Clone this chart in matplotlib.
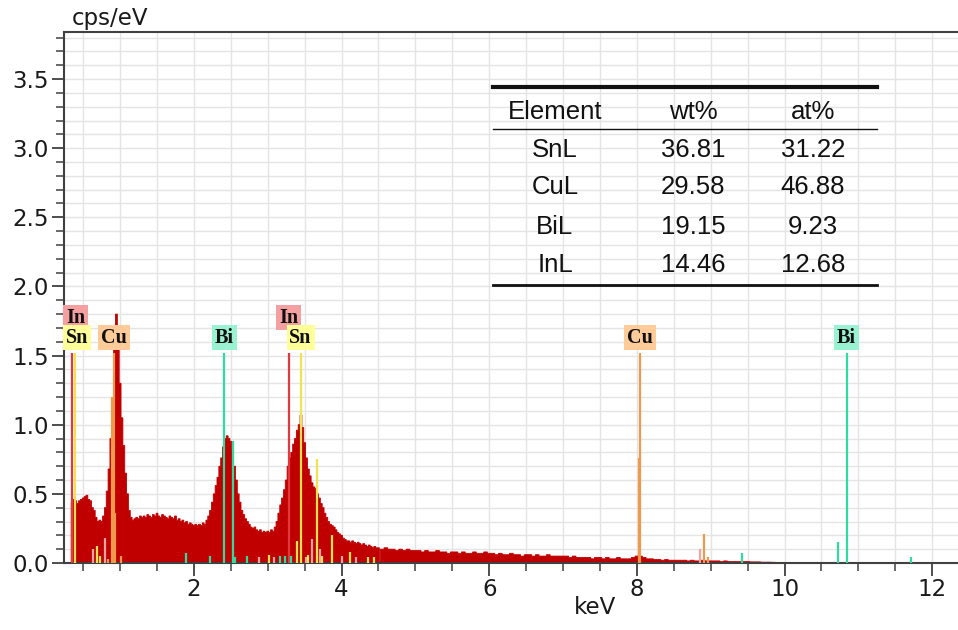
import numpy as np
import matplotlib.pyplot as plt
from matplotlib.ticker import MultipleLocator

# EDS spectrum (cps/eV)
# fine channels 0.350 - 4.500 keV, 0.025 keV apart
spec_lo = [
    0.44, 0.46, 0.45, 0.43, 0.45, 0.46, 0.47, 0.48, 0.49, 0.46,
    0.45, 0.40, 0.38, 0.33, 0.30, 0.31, 0.30, 0.34, 0.40, 0.52,
    0.68, 0.90, 1.15, 1.55, 1.80, 1.56, 1.30, 1.05, 0.85, 0.65,
    0.50, 0.38, 0.33, 0.31, 0.32, 0.33, 0.32, 0.34, 0.33, 0.34,
    0.33, 0.35, 0.34, 0.33, 0.35, 0.34, 0.36, 0.34, 0.33, 0.35,
    0.34, 0.33, 0.32, 0.34, 0.33, 0.32, 0.34, 0.31, 0.32, 0.30,
    0.31, 0.29, 0.30, 0.28, 0.29, 0.28, 0.27, 0.28, 0.27, 0.28,
    0.27, 0.29, 0.28, 0.31, 0.34, 0.38, 0.44, 0.50, 0.56, 0.62,
    0.70, 0.76, 0.84, 0.90, 0.92, 0.90, 0.88, 0.82, 0.70, 0.60,
    0.50, 0.44, 0.38, 0.35, 0.32, 0.30, 0.28, 0.26, 0.25, 0.26,
    0.24, 0.23, 0.24, 0.22, 0.23, 0.22, 0.23, 0.22, 0.24, 0.23,
    0.26, 0.30, 0.36, 0.42, 0.47, 0.53, 0.60, 0.70, 0.76, 0.80,
    0.86, 0.90, 0.96, 1.00, 1.07, 0.98, 0.87, 0.76, 0.68, 0.63,
    0.58, 0.55, 0.54, 0.50, 0.47, 0.43, 0.40, 0.36, 0.33, 0.30,
    0.28, 0.27, 0.26, 0.24, 0.22, 0.21, 0.20, 0.18, 0.17, 0.16,
    0.16, 0.15, 0.16, 0.15, 0.14, 0.15, 0.14, 0.13, 0.14, 0.13,
    0.12, 0.13, 0.12, 0.11, 0.12, 0.11, 0.11,
]
# coarse channels 4.55 - 9.85 keV, 0.05 keV apart
spec_hi = [
    0.10, 0.11, 0.10, 0.10, 0.09, 0.10, 0.09, 0.10, 0.09, 0.09,
    0.09, 0.08, 0.09, 0.08, 0.08, 0.09, 0.08, 0.08, 0.07, 0.08,
    0.08, 0.07, 0.08, 0.07, 0.07, 0.08, 0.07, 0.07, 0.08, 0.07,
    0.07, 0.06, 0.07, 0.06, 0.06, 0.07, 0.06, 0.06, 0.05, 0.06,
    0.06, 0.05, 0.06, 0.05, 0.05, 0.06, 0.05, 0.05, 0.05, 0.05,
    0.05, 0.04, 0.05, 0.04, 0.04, 0.04, 0.04, 0.03, 0.04, 0.04,
    0.03, 0.04, 0.03, 0.03, 0.04, 0.03, 0.03, 0.03, 0.04, 0.05,
    0.05, 0.04, 0.03, 0.03, 0.025, 0.025, 0.02, 0.025, 0.02, 0.02,
    0.02, 0.02, 0.02, 0.015, 0.02, 0.015, 0.015, 0.02, 0.015, 0.015,
    0.015, 0.015, 0.01, 0.015, 0.01, 0.01, 0.01, 0.01, 0.01, 0.01,
    0.008, 0.008, 0.008, 0.006, 0.006, 0.006, 0.005,
]
e_lo = 0.35 + 0.025 * np.arange(len(spec_lo))
e_hi = 4.55 + 0.05 * np.arange(len(spec_hi))

# element marker lines (keV, height, element)
line_energy = [0.35, 0.39, 0.916, 2.41, 3.286, 3.444, 8.045, 10.84,
               0.89, 0.935, 0.80, 0.83, 1.01, 0.63, 0.69, 0.73,
               2.525, 1.89, 2.22, 2.56, 2.72, 2.88, 3.02, 3.09, 3.16, 3.23, 3.32,
               3.40, 3.52, 3.55, 3.60, 3.663, 3.71, 3.74, 3.87, 4.00, 4.11, 4.20, 4.36, 4.44,
               8.03, 8.86, 8.905, 8.96, 9.42, 10.73, 11.71]
line_height = [1.52, 1.52, 1.52, 1.52, 1.52, 1.52, 1.52, 1.52,
               1.20, 0.36, 0.18, 0.03, 0.05, 0.10, 0.12, 0.05,
               0.88, 0.07, 0.05, 0.04, 0.05, 0.04, 0.06, 0.04, 0.05, 0.05, 0.05,
               0.16, 0.04, 0.06, 0.17, 0.75, 0.10, 0.05, 0.20, 0.05, 0.08, 0.04, 0.04, 0.04,
               0.76, 0.10, 0.21, 0.04, 0.07, 0.155, 0.045]
line_elem = ['In', 'Sn', 'Cu', 'Bi', 'In', 'Sn', 'Cu', 'Bi',
             'Cu', 'Cu', 'In', 'Cu', 'Cu', 'In', 'Sn', 'Sn',
             'Bi', 'Bi', 'Bi', 'Bi', 'Bi', 'In', 'Sn', 'In', 'Bi', 'Bi', 'Bi',
             'Sn', 'In', 'Sn', 'In', 'Sn', 'In', 'Sn', 'Sn', 'In', 'Sn', 'In', 'Sn', 'Sn',
             'Cu', 'In', 'Cu', 'Cu', 'Bi', 'Bi', 'Bi']

# labelled peaks (element, keV, row)
label_elem = ['In', 'Sn', 'Cu', 'Bi', 'In', 'Sn', 'Cu', 'Bi']
label_energy = [0.35, 0.39, 0.916, 2.41, 3.286, 3.444, 8.045, 10.84]
label_row = [1, 0, 0, 0, 1, 0, 0, 0]

# quantification table
tab_elem = ['SnL', 'CuL', 'BiL', 'InL']
tab_wt = ['36.81', '29.58', '19.15', '14.46']
tab_at = ['31.22', '46.88', '9.23', '12.68']

line_col = {'In': '#E0393E', 'Sn': '#F2E250', 'Cu': '#EE9A4C', 'Bi': '#2FDB9E'}
small_col = {'In': '#F4A3A3', 'Sn': '#F2E250', 'Cu': '#EE9A4C', 'Bi': '#2FDB9E'}
box_col = {'In': '#F5A0A0', 'Sn': '#FFFF99', 'Cu': '#FFCC99', 'Bi': '#99F2D2'}

W, H = 958, 630
fig = plt.figure(figsize=(W / 100, H / 100), dpi=100)
ax = fig.add_axes([64 / W, 1 - 563 / H, 894 / W, 531 / H])

x0, x1 = 0.24, 12.35
ax.set_xlim(x0, x1)
ax.set_ylim(0, 3.84)

# one closed step outline per segment
for e, v, half in [(e_lo, spec_lo, 0.0125), (e_hi, spec_hi, 0.025)]:
    xs = np.column_stack([e - half, e + half]).ravel()
    ys = np.repeat(v, 2)
    ax.fill(np.r_[xs[0], xs, xs[-1]], np.r_[0, ys, 0], color='#C00000',
            lw=0.6, snap=False, zorder=2)

for e, h, el in zip(line_energy, line_height, line_elem):
    c = line_col[el] if h > 0.3 else small_col[el]
    ax.vlines(e, 0, h, color=c, lw=1.6, zorder=3)

top = max(line_height)
for el, e, row in zip(label_elem, label_energy, label_row):
    y = top + 0.11 + row * 0.145
    ha = 'center'
    x = e
    if e - 0.2 < x0:
        ha = 'left'
        x = x0 + 0.03
    ax.text(x, y, el, ha=ha, va='center', fontsize=14.5, fontweight='bold',
            family='Liberation Serif', color='#101010', zorder=5,
            bbox=dict(boxstyle='square,pad=0.14', fc=box_col[el], ec='none'))

# axes styling
ax.xaxis.set_minor_locator(MultipleLocator(0.5))
ax.yaxis.set_minor_locator(MultipleLocator(0.1))
ax.set_xticks([2, 4, 6, 8, 10, 12])
ax.set_yticks(np.arange(0, 3.6, 0.5))
ax.set_yticklabels(['%.1f' % v for v in np.arange(0, 3.6, 0.5)])
ax.grid(which='both', color='#E4E4E4', lw=1, zorder=0)
ax.set_axisbelow(True)
ax.tick_params(which='major', length=9, width=1.3, color='#404040',
               labelsize=16.5, pad=2, labelcolor='#1A1A1A')
ax.tick_params(which='minor', length=6, width=1.1, color='#404040')
for s in ['left', 'bottom', 'top']:
    ax.spines[s].set_color('#404040')
    ax.spines[s].set_linewidth(1.5)
ax.spines['right'].set_visible(False)

fig.text(72 / W, 1 - 18 / H, 'cps/eV', fontsize=16.5, va='center', color='#1A1A1A')
fig.text(595 / W, 1 - 607 / H, 'keV', fontsize=16.5, ha='center', va='center', color='#1A1A1A')

# table
tx = [555, 693, 813]
ty = [112, 150, 187, 227, 265]
tfont = dict(fontsize=18.5, family='Liberation Sans', ha='center', va='center', color='#111111')
for x, t in zip(tx, ['Element', 'wt%', 'at%']):
    fig.text(x / W, 1 - ty[0] / H, t, **tfont)
for i in range(len(tab_elem)):
    for x, t in zip(tx, [tab_elem[i], tab_wt[i], tab_at[i]]):
        fig.text(x / W, 1 - ty[i + 1] / H, t, **tfont)
for y, lw in [(87, 3), (129, 1), (285, 2)]:
    fig.add_artist(plt.Line2D([493 / W, 877 / W], [1 - y / H, 1 - y / H],
                              color='#111111', lw=lw))

fig.savefig('out.png', dpi=100)
